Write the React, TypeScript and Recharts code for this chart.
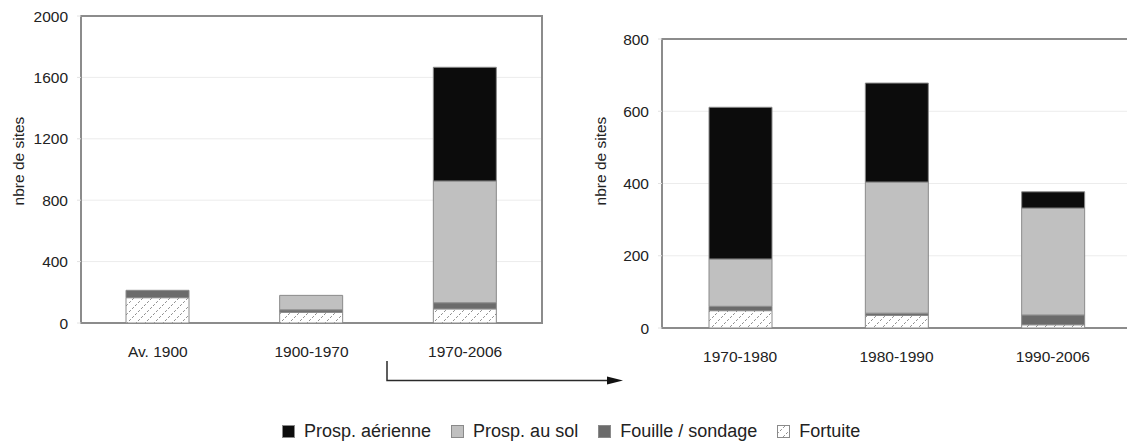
import { Bar, BarChart, CartesianGrid, ReferenceArea, XAxis, YAxis } from 'recharts';

// Nombre de sites par période et par mode de découverte
const periodesLongues = ['Av. 1900', '1900-1970', '1970-2006'];
const fortuiteLongues = [165, 70, 92];
const fouilleLongues = [48, 16, 40];
const solLongues = [0, 94, 793];
const aerienneLongues = [0, 0, 741];
const ticksLongues = [0, 400, 800, 1200, 1600, 2000];

const periodesDetail = ['1970-1980', '1980-1990', '1990-2006'];
const fortuiteDetail = [48, 35, 9];
const fouilleDetail = [12, 6, 27];
const solDetail = [131, 363, 296];
const aerienneDetail = [420, 274, 45];
const ticksDetail = [0, 200, 400, 600, 800];

const legendLabels = ['Prosp. aérienne', 'Prosp. au sol', 'Fouille / sondage', 'Fortuite'];

const FONT = '"Liberation Sans", Arial, Helvetica, sans-serif';
const TEXT = '#222222';
const BORDER = '#8c8c8c';

// bottom to top of the stack
const series = [
  { key: 'fortuite', fill: 'url(#hachures)' },
  { key: 'fouille', fill: '#6b6b6b' },
  { key: 'sol', fill: '#c0c0c0' },
  { key: 'aerienne', fill: '#0c0c0c' },
];

const legendFills = ['#0c0c0c', '#c0c0c0', '#6b6b6b', 'url(#hachures)'];

function buildRows(
  periodes: string[],
  fortuite: number[],
  fouille: number[],
  sol: number[],
  aerienne: number[],
) {
  return periodes.map((periode, i) => ({
    periode,
    fortuite: fortuite[i],
    fouille: fouille[i],
    sol: sol[i],
    aerienne: aerienne[i],
  }));
}

const rowsLongues = buildRows(periodesLongues, fortuiteLongues, fouilleLongues, solLongues, aerienneLongues);
const rowsDetail = buildRows(periodesDetail, fortuiteDetail, fouilleDetail, solDetail, aerienneDetail);

interface StackProps {
  data: ReturnType<typeof buildRows>;
  ticks: number[];
  width: number;
  height: number;
  top: number;
  right: number;
  axisWidth: number;
}

function StackChart({ data, ticks, width, height, top, right, axisWidth }: StackProps) {
  const max = ticks[ticks.length - 1];
  return (
    <BarChart width={width} height={height} data={data} margin={{ top, right, bottom: 0, left: 0 }}>
      <CartesianGrid vertical={false} stroke="#ececec" />
      <ReferenceArea y1={0} y2={max} fill="none" stroke={BORDER} strokeWidth={2} />
      <XAxis
        dataKey="periode"
        height={47}
        axisLine={false}
        tickLine={false}
        tickSize={6}
        tickMargin={17}
        tick={{ fill: TEXT, fontSize: 15.5 }}
      />
      <YAxis
        width={axisWidth}
        domain={[0, max]}
        ticks={ticks}
        axisLine={false}
        tickLine={{ stroke: '#e2e2e2' }}
        tickSize={4}
        tickMargin={9}
        tick={{ fill: TEXT, fontSize: 15.5 }}
      />
      {series.map((s) => (
        <Bar
          key={s.key}
          dataKey={s.key}
          stackId="sites"
          fill={s.fill}
          stroke="#8a8a8a"
          strokeWidth={1}
          barSize={63}
          isAnimationActive={false}
        />
      ))}
    </BarChart>
  );
}

function AxisTitle({ cx, cy }: { cx: number; cy: number }) {
  return (
    <div
      style={{
        position: 'absolute',
        left: cx,
        top: cy,
        transform: 'translate(-50%, -50%) rotate(-90deg)',
        whiteSpace: 'nowrap',
        fontSize: 15.5,
        color: TEXT,
      }}
    >
      nbre de sites
    </div>
  );
}

export default function App() {
  return (
    <div
      style={{
        position: 'fixed',
        left: 0,
        top: 0,
        width: 1127,
        height: 443,
        overflow: 'hidden',
        background: '#ffffff',
        fontFamily: FONT,
      }}
    >
      <svg width={0} height={0} style={{ position: 'absolute' }}>
        <defs>
          <pattern id="hachures" patternUnits="userSpaceOnUse" width={9} height={9}>
            <rect width={9} height={9} fill="#ffffff" />
            <line x1={0} y1={9} x2={9} y2={0} stroke="#6a6a6a" strokeWidth={0.8} strokeDasharray="2.5 1.8" />
          </pattern>
        </defs>
      </svg>

      <div style={{ position: 'absolute', left: 0, top: 0 }}>
        <StackChart data={rowsLongues} ticks={ticksLongues} width={560} height={370} top={16} right={18} axisWidth={81} />
      </div>
      <AxisTitle cx={19} cy={161} />

      <div style={{ position: 'absolute', left: 580, top: 0 }}>
        <StackChart data={rowsDetail} ticks={ticksDetail} width={551} height={375} top={39} right={0} axisWidth={82} />
      </div>
      <AxisTitle cx={601} cy={161} />

      {/* flèche : zoom sur 1970-2006 */}
      <svg width={1127} height={443} style={{ position: 'absolute', left: 0, top: 0, pointerEvents: 'none' }}>
        <path d="M387 361 V380.5 H609" fill="none" stroke="#2a2a2a" strokeWidth={1.5} />
        <polygon points="607,376.5 623,380.5 607,384.5" fill="#111111" />
      </svg>

      <div
        style={{
          position: 'absolute',
          left: 282,
          top: 421,
          display: 'flex',
          alignItems: 'center',
          fontSize: 18,
          lineHeight: '21px',
          color: TEXT,
        }}
      >
        {legendLabels.map((label, i) => (
          <div key={label} style={{ display: 'flex', alignItems: 'center', marginRight: 20 }}>
            <svg width={13} height={13} style={{ marginRight: 9 }}>
              <rect x={0.5} y={0.5} width={12} height={12} fill={legendFills[i]} stroke="#8a8a8a" />
            </svg>
            <span>{label}</span>
          </div>
        ))}
      </div>
    </div>
  );
}
